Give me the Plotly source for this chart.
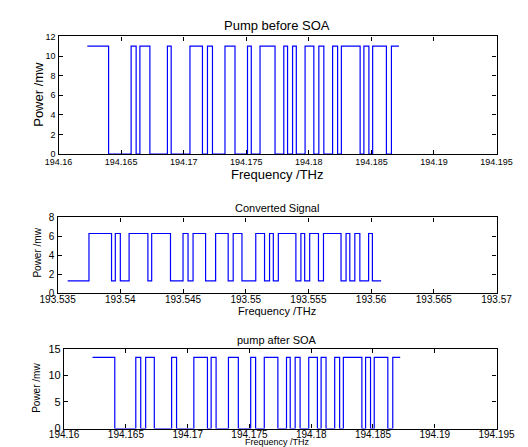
import plotly.graph_objects as go

# ---- data ----
pump_before_freq = [194.1623, 194.1640, 194.1658, 194.1662, 194.1665, 194.1673, 194.1687, 194.1690,
                    194.1705, 194.1715, 194.1719, 194.1723, 194.1733, 194.1741, 194.1751, 194.1754,
                    194.1761, 194.1773, 194.1780, 194.1783, 194.1787, 194.1790, 194.1797, 194.1804,
                    194.1808, 194.1812, 194.1819, 194.1823, 194.1826, 194.1841, 194.1844, 194.1848,
                    194.1851, 194.1862, 194.1866, 194.1872]
pump_before_power = [11, 0, 11, 0, 11, 0, 11, 0, 11, 0, 11, 0, 11, 0, 11, 0, 11, 0,
                     11, 0, 11, 0, 11, 0, 11, 0, 11, 0, 11, 0, 11, 0, 11, 0, 11, 11]

conv_freq = [193.5358, 193.5375, 193.5393, 193.5396, 193.5400, 193.5407, 193.5422, 193.5425,
             193.5440, 193.5450, 193.5454, 193.5458, 193.5468, 193.5476, 193.5486, 193.5490,
             193.5497, 193.5508, 193.5515, 193.5519, 193.5522, 193.5526, 193.5540, 193.5544,
             193.5547, 193.5551, 193.5558, 193.5562, 193.5576, 193.5580, 193.5583, 193.5587,
             193.5591, 193.5598, 193.5601, 193.5608]
conv_power = [1.3, 6.3, 1.3, 6.3, 1.3, 6.3, 1.3, 6.3, 1.3, 6.3, 1.3, 6.3, 1.3, 6.3, 1.3, 6.3, 1.3, 6.3,
              1.3, 6.3, 1.3, 6.3, 1.3, 6.3, 1.3, 6.3, 1.3, 6.3, 1.3, 6.3, 1.3, 6.3, 1.3, 6.3, 1.3, 1.3]

pump_after_freq = [194.1623, 194.1641, 194.1658, 194.1662, 194.1666, 194.1673, 194.1687, 194.1691,
                   194.1705, 194.1716, 194.1719, 194.1723, 194.1733, 194.1741, 194.1751, 194.1755,
                   194.1762, 194.1773, 194.1780, 194.1783, 194.1787, 194.1791, 194.1798, 194.1805,
                   194.1808, 194.1812, 194.1819, 194.1823, 194.1826, 194.1841, 194.1844, 194.1848,
                   194.1851, 194.1862, 194.1866, 194.1872]
pump_after_power = [13.4, 0, 13.4, 0, 13.4, 0, 13.4, 0, 13.4, 0, 13.4, 0, 13.4, 0, 13.4, 0, 13.4, 0,
                    13.4, 0, 13.4, 0, 13.4, 0, 13.4, 0, 13.4, 0, 13.4, 0, 13.4, 0, 13.4, 0, 13.4, 13.4]

pump_xticks = [194.16, 194.165, 194.17, 194.175, 194.18, 194.185, 194.19, 194.195]
pump_xlabels = ["194.16", "194.165", "194.17", "194.175", "194.18", "194.185", "194.19", "194.195"]
conv_xticks = [193.535, 193.54, 193.545, 193.55, 193.555, 193.56, 193.565, 193.57]
conv_xlabels = ["193.535", "193.54", "193.545", "193.55", "193.555", "193.56", "193.565", "193.57"]
top_yticks = [0, 2, 4, 6, 8, 10, 12]
mid_yticks = [0, 2, 4, 6, 8]
bot_yticks = [0, 5, 10, 15]

W, H = 528, 447
FONT = "Liberation Sans, Arial, sans-serif"

def px_x(p):
    return p / W

def px_y(p):
    return 1 - p / H

fig = go.Figure()
line = dict(color="#0000ff", width=1.2, shape="hv")
fig.add_trace(go.Scatter(x=pump_before_freq, y=pump_before_power, mode="lines", line=line,
                         xaxis="x", yaxis="y", showlegend=False))
fig.add_trace(go.Scatter(x=conv_freq, y=conv_power, mode="lines", line=line,
                         xaxis="x2", yaxis="y2", showlegend=False))
fig.add_trace(go.Scatter(x=pump_after_freq, y=pump_after_power, mode="lines", line=line,
                         xaxis="x3", yaxis="y3", showlegend=False))

def ax(**kw):
    d = dict(showgrid=False, zeroline=False, showline=True, linecolor="black", linewidth=1.4,
             mirror="ticks", ticks="inside", ticklen=4, tickcolor="black", tickwidth=1,
             fixedrange=True)
    d.update(kw)
    return d

fig.update_layout(
    width=W, height=H,
    margin=dict(l=0, r=0, t=0, b=0),
    paper_bgcolor="white", plot_bgcolor="white",
    font=dict(family=FONT, color="black"),
    xaxis=ax(domain=[px_x(35), px_x(506)], anchor="y", range=[194.16, 194.195],
             tickvals=pump_xticks, ticktext=pump_xlabels, tickfont=dict(size=9),
             ticklabelstandoff=-1),
    yaxis=ax(domain=[px_y(144), px_y(23)], anchor="x", range=[0, 12],
             tickvals=top_yticks, tickfont=dict(size=9)),
    xaxis2=ax(domain=[px_x(34), px_x(506)], anchor="y2", range=[193.535, 193.57],
              tickvals=conv_xticks, ticktext=conv_xlabels, tickfont=dict(size=10),
              ticklabelstandoff=-3),
    yaxis2=ax(domain=[px_y(287), px_y(209)], anchor="x2", range=[0, 8],
              tickvals=mid_yticks, tickfont=dict(size=10)),
    xaxis3=ax(domain=[px_x(41), px_x(506)], anchor="y3", range=[194.16, 194.195],
              tickvals=pump_xticks, ticktext=pump_xlabels, tickfont=dict(size=10),
              ticklabelstandoff=-4),
    yaxis3=ax(domain=[px_y(426), px_y(344)], anchor="x3", range=[0, 15],
              tickvals=bot_yticks, tickfont=dict(size=11)),
)

def note(text, x, y, size, angle=0):
    fig.add_annotation(text=text, xref="paper", yref="paper", x=px_x(x), y=px_y(y),
                       xanchor="center", yanchor="middle", showarrow=False, textangle=angle,
                       font=dict(size=size, family=FONT, color="black"))

note("Pump before SOA", 270, 12, 13)
note("Frequency /THz", 270, 165, 13)
note("Power /mw", 14, 83, 13, -90)

note("Converted Signal", 270, 199, 11)
note("Frequency /THz", 270, 305, 11)
note("Power /mw", 12, 245, 10, -90)

note("pump after SOA", 270, 335, 11)
note("Frequency /THz", 270, 440, 9)
note("Power /mw", 12, 384, 10, -90)

fig.write_html("out.html")
